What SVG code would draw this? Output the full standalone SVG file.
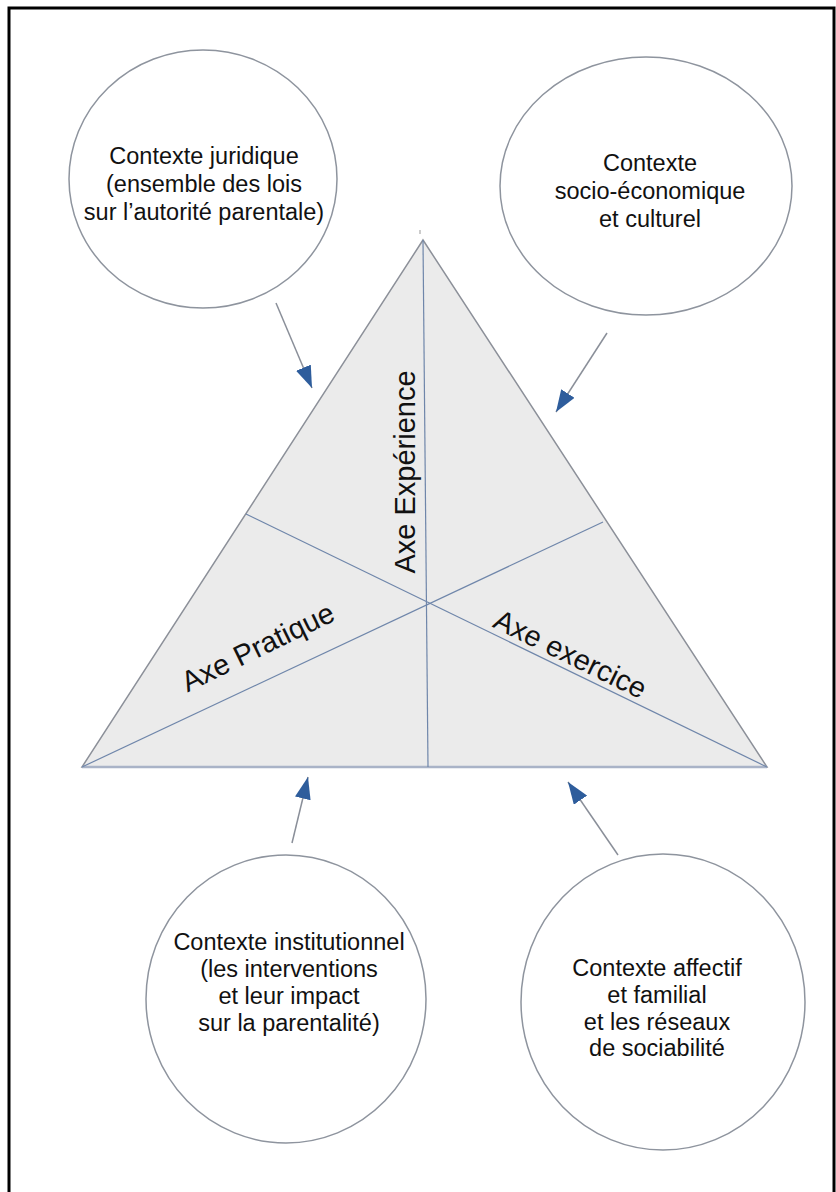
<svg xmlns="http://www.w3.org/2000/svg" width="836" height="1192" viewBox="0 0 836 1192">
<style>
.ctx{fill:#fff;stroke:#8e949e;stroke-width:1.5}
.t{font-family:"Liberation Sans",Arial,sans-serif;font-size:23.5px;fill:#111;text-anchor:middle}
.ax{font-family:"Liberation Sans",Arial,sans-serif;font-size:29px;fill:#111;text-anchor:middle}
.arr{stroke:#8a8f99;stroke-width:1.5;fill:none;marker-end:url(#ah)}
.inner{stroke:#6f86aa;stroke-width:1.2;fill:none}
</style>
<defs>
<marker id="ah" markerUnits="userSpaceOnUse" viewBox="0 0 22 16" refX="22" refY="8" markerWidth="22" markerHeight="16" orient="auto">
<path d="M0,0 L22,8 L0,16 Z" fill="#2e5d9c"/>
</marker>
</defs>
<rect x="9" y="8" width="825" height="1200" fill="#fff" stroke="#000" stroke-width="3"/>
<g id="triangle">
<polygon points="423,240 767,767 82,767" fill="#ebebeb" stroke="#8c9099" stroke-width="1.5"/>
<line x1="82" y1="767" x2="767" y2="767" stroke="#a9b3c7" stroke-width="2.5"/>
<line class="inner" x1="423" y1="240" x2="428" y2="767"/>
<line class="inner" x1="82" y1="767" x2="603" y2="522"/>
<line class="inner" x1="767" y1="767" x2="246" y2="514"/>
<line x1="420" y1="230" x2="420" y2="234" stroke="#999" stroke-width="1"/>
</g>
<g id="axe-experience"><text class="ax" transform="translate(415,472) rotate(-90)">Axe Expérience</text></g>
<g id="axe-pratique"><text class="ax" transform="translate(262,656) rotate(-26)">Axe Pratique</text></g>
<g id="axe-exercice"><text class="ax" transform="translate(566,663) rotate(26)">Axe exercice</text></g>
<g id="ctx-juridique">
<ellipse class="ctx" cx="203" cy="179" rx="134" ry="129"/>
<text class="t" x="204" y="164">Contexte juridique</text>
<text class="t" x="204" y="192">(ensemble des lois</text>
<text class="t" x="204" y="220">sur l’autorité parentale)</text>
</g>
<g id="ctx-socio">
<ellipse class="ctx" cx="646" cy="186" rx="146" ry="129"/>
<text class="t" x="650" y="171">Contexte</text>
<text class="t" x="650" y="199">socio-économique</text>
<text class="t" x="650" y="227">et culturel</text>
</g>
<g id="ctx-institutionnel">
<ellipse class="ctx" cx="286" cy="999" rx="140" ry="144"/>
<text class="t" x="289" y="950">Contexte institutionnel</text>
<text class="t" x="289" y="977">(les interventions</text>
<text class="t" x="289" y="1004">et leur impact</text>
<text class="t" x="289" y="1031">sur la parentalité)</text>
</g>
<g id="ctx-affectif">
<ellipse class="ctx" cx="663" cy="1002" rx="142" ry="148"/>
<text class="t" x="657" y="976">Contexte affectif</text>
<text class="t" x="657" y="1003">et familial</text>
<text class="t" x="657" y="1030">et les réseaux</text>
<text class="t" x="657" y="1056">de sociabilité</text>
</g>
<g id="connectors">
<line class="arr" x1="276" y1="303" x2="312" y2="388"/>
<line class="arr" x1="607" y1="333" x2="556" y2="412"/>
<line class="arr" x1="292" y1="843" x2="308" y2="777"/>
<line class="arr" x1="618" y1="855" x2="568" y2="782"/>
</g>
</svg>
